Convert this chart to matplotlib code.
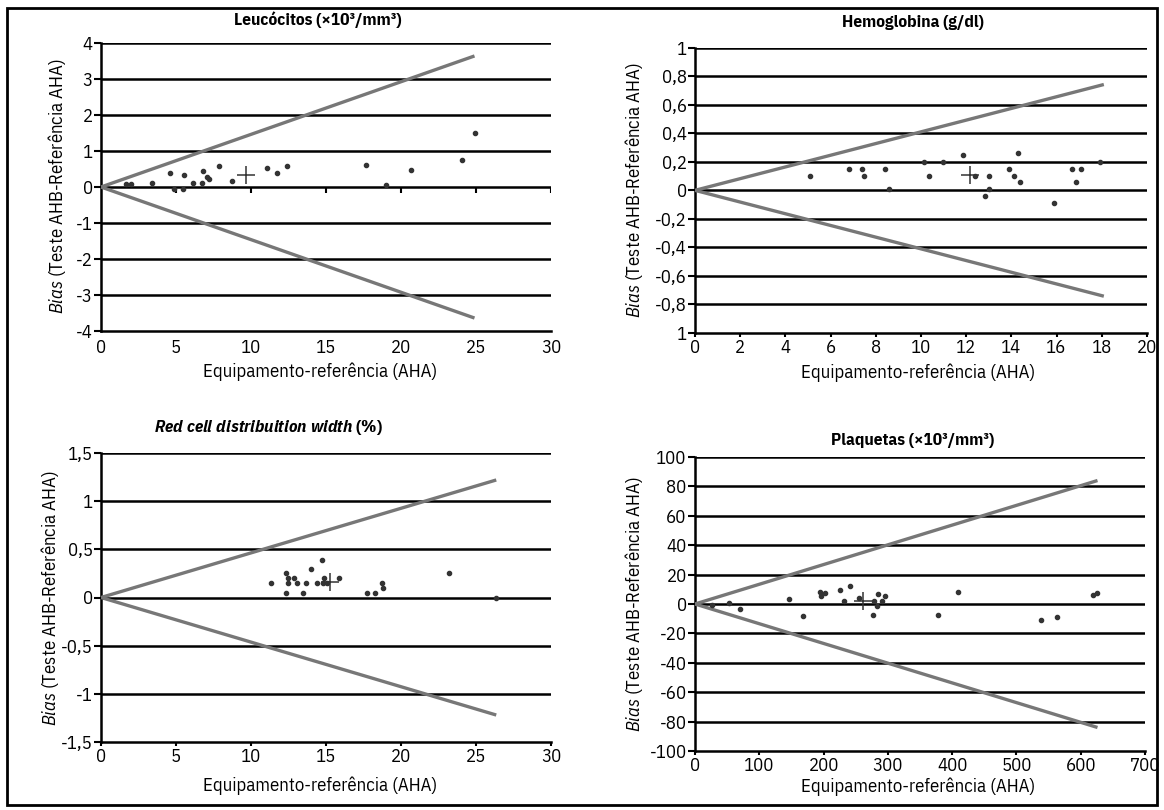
import matplotlib
matplotlib.use("Agg")
import matplotlib.pyplot as plt
from matplotlib.patches import Rectangle

FN = 'IBM Plex Sans Condensed'
FONT = [FN, 'DejaVu Sans']
plt.rcParams['font.family'] = FONT
plt.rcParams['mathtext.fontset'] = 'custom'
plt.rcParams['mathtext.it'] = FN + ':italic'
plt.rcParams['mathtext.bfit'] = FN + ':italic:bold'
plt.rcParams['mathtext.rm'] = FN
plt.rcParams['mathtext.bf'] = FN + ':bold'

# ---------------- data ----------------
# Leucocitos
leu_x = [1.65, 1.98, 3.4, 4.62, 4.85, 5.45, 5.55, 6.11, 6.73, 6.8, 7.05, 7.2,
         7.85, 8.73, 11.07, 11.71, 12.42, 17.67, 18.98, 20.67, 24.07, 24.9]
leu_y = [0.09, 0.09, 0.12, 0.40, -0.05, -0.05, 0.34, 0.12, 0.12, 0.44, 0.27, 0.22,
         0.59, 0.18, 0.54, 0.40, 0.59, 0.61, 0.05, 0.46, 0.76, 1.5]
leu_mean = (9.67, 0.32)
leu_lim = (24.9, 3.64)
leu_yticks = [4, 3, 2, 1, 0, -1, -2, -3, -4]
leu_ylabels = ['4', '3', '2', '1', '0', '-1', '-2', '-3', '-4']
leu_xticks = [0, 5, 10, 15, 20, 25, 30]

# Hemoglobina
hb_x = [5.10, 6.81, 7.37, 7.48, 8.40, 8.60, 10.12, 10.35, 10.97, 11.84, 12.41,
        12.81, 13.03, 13.0, 13.88, 14.10, 14.27, 14.36, 15.89, 16.68, 16.86, 17.06, 17.94]
hb_y = [0.10, 0.15, 0.15, 0.10, 0.15, 0.01, 0.20, 0.10, 0.20, 0.25, 0.10,
        -0.04, 0.10, 0.01, 0.15, 0.10, 0.26, 0.06, -0.09, 0.15, 0.06, 0.15, 0.20]
hb_mean = (12.15, 0.11)
hb_lim = (18.09, 0.742)
hb_yticks = [1, 0.8, 0.6, 0.4, 0.2, 0, -0.2, -0.4, -0.6, -0.8, -1]
hb_ylabels = ['1', '0,8', '0,6', '0,4', '0,2', '0', '-0,2', '-0,4', '-0,6', '-0,8', '1']
hb_xticks = [0, 2, 4, 6, 8, 10, 12, 14, 16, 18, 20]

# RDW
rdw_x = [11.31, 12.35, 12.49, 12.49, 12.35, 12.87, 13.09, 13.45, 13.69, 13.98,
         14.38, 14.71, 14.87, 14.8, 15.09, 15.87, 17.71, 18.27, 18.71, 18.78, 23.2, 26.35]
rdw_y = [0.15, 0.25, 0.20, 0.15, 0.05, 0.20, 0.15, 0.05, 0.15, 0.30,
         0.15, 0.39, 0.20, 0.15, 0.15, 0.20, 0.05, 0.05, 0.15, 0.10, 0.25, 0.0]
rdw_mean = (15.27, 0.16)
rdw_lim = (26.35, 1.22)
rdw_yticks = [1.5, 1, 0.5, 0, -0.5, -1, -1.5]
rdw_ylabels = ['1,5', '1', '0,5', '0', '-0,5', '-1', '-1,5']
rdw_xticks = [0, 5, 10, 15, 20, 25, 30]

# Plaquetas
plt_x = [26.6, 52.7, 70.3, 146.9, 168.3, 194.8, 195.8, 202.0, 225.5, 231.3, 241.1,
         255.8, 277.0, 278.1, 282.8, 283.9, 290.2, 295.8, 378.1, 409.4, 538.6,
         563.6, 618.8, 626.1]
plt_y = [-0.9, 0.9, -3.4, 3.2, -8.2, 8.4, 5.5, 7.5, 9.8, 2.3, 12.0,
         3.9, -7.5, 1.8, -1.1, 7.0, 2.3, 5.5, -7.7, 8.2, -10.7,
         -9.1, 5.9, 7.5]
plt_mean = (262.0, 2.0)
plt_lim = (626.1, 84.0)
plt_yticks = [100, 80, 60, 40, 20, 0, -20, -40, -60, -80, -100]
plt_ylabels = [str(v) for v in plt_yticks]
plt_xticks = [0, 100, 200, 300, 400, 500, 600, 700]

# ---------------- figure ----------------
W, H = 1164, 810
fig = plt.figure(figsize=(W / 100, H / 100), dpi=100)
TS = 13.5


def px_axes(l, r, t, b):
    return fig.add_axes([l / W, 1 - b / H, (r - l) / W, (b - t) / H])


def panel(ax, xs, ys, mean, lim, yticks, ylabels, xticks, zero_ticks=False):
    ymin, ymax = min(yticks), max(yticks)
    ax.set_xlim(xticks[0], xticks[-1])
    ax.set_ylim(ymin, ymax)
    for s in ['top', 'right']:
        ax.spines[s].set_visible(False)
    ax.spines['left'].set_linewidth(1.8)
    ax.spines['bottom'].set_linewidth(1.8)
    for yv in yticks:
        if yv != ymin:
            ax.axhline(yv, color='black', lw=1.8, zorder=1)
    ax.set_yticks(yticks)
    ax.set_yticklabels(ylabels)
    ax.set_xticks(xticks)
    ax.set_xticklabels([str(v) for v in xticks])
    ax.tick_params(axis='y', direction='out', length=5, width=1.5, labelsize=TS, pad=1)
    if zero_ticks:
        ax.tick_params(axis='x', length=0, labelsize=TS, pad=6)
        tick_len = (ymax - ymin) * 0.02
        ax.vlines(xticks[1:], -tick_len, 0, color='black', lw=1.5, zorder=2)
    else:
        ax.tick_params(axis='x', direction='out', length=3, width=1.5, labelsize=TS, pad=1)
    # limit lines
    ax.plot([0, lim[0]], [0, lim[1]], color='#777777', lw=2.4, zorder=3, solid_capstyle='butt')
    ax.plot([0, lim[0]], [0, -lim[1]], color='#777777', lw=2.4, zorder=3, solid_capstyle='butt')
    ax.plot(xs, ys, 'o', color='#333333', ms=3.0, zorder=4, clip_on=False)
    ax.plot([mean[0]], [mean[1]], '+', color='#333333', ms=13, mew=1.1, zorder=5)


ax1 = px_axes(101, 551, 43, 331)
panel(ax1, leu_x, leu_y, leu_mean, leu_lim, leu_yticks, leu_ylabels, leu_xticks, zero_ticks=True)
ax2 = px_axes(695, 1147, 47.7, 333)
panel(ax2, hb_x, hb_y, hb_mean, hb_lim, hb_yticks, hb_ylabels, hb_xticks)
ax3 = px_axes(101, 551, 453, 742)
panel(ax3, rdw_x, rdw_y, rdw_mean, rdw_lim, rdw_yticks, rdw_ylabels, rdw_xticks)
ax4 = px_axes(695, 1145, 457, 751)
panel(ax4, plt_x, plt_y, plt_mean, plt_lim, plt_yticks, plt_ylabels, plt_xticks)


def ftext(x, y, s, **kw):
    fig.text(x / W, 1 - y / H, s, ha='center', va='center', **kw)


# titles
ftext(318, 20, 'Leucócitos (×10³/mm³)', fontsize=12.5, fontweight='bold')
ftext(913, 22, 'Hemoglobina (g/dl)', fontsize=12.5, fontweight='bold')
ftext(268, 428, r'$\mathbfit{Red\ cell\ distribuition\ width}$ (%)', fontsize=12.5, fontweight='bold')
ftext(913, 440, 'Plaquetas (×10³/mm³)', fontsize=12.5, fontweight='bold')

# x labels
xl = 'Equipamento-referência (AHA)'
ftext(320, 372, xl, fontsize=TS)
ftext(918, 373, xl, fontsize=TS)
ftext(320, 786, xl, fontsize=TS)
ftext(918, 787, xl, fontsize=TS)

# y labels
yl = r'$\mathit{Bias}$ (Teste AHB-Referência AHA)'
ftext(57, 186, yl, fontsize=TS, rotation=90)
ftext(634, 190, yl, fontsize=TS, rotation=90)
ftext(50, 598, yl, fontsize=TS, rotation=90)
ftext(634, 604, yl, fontsize=TS, rotation=90)

# outer frame
fig.patches.append(Rectangle((7 / W, 1 - 805 / H), (1157 - 7) / W, (805 - 8) / H,
                             transform=fig.transFigure, fill=False, lw=2, edgecolor='black'))

fig.savefig('out.png', dpi=100)
